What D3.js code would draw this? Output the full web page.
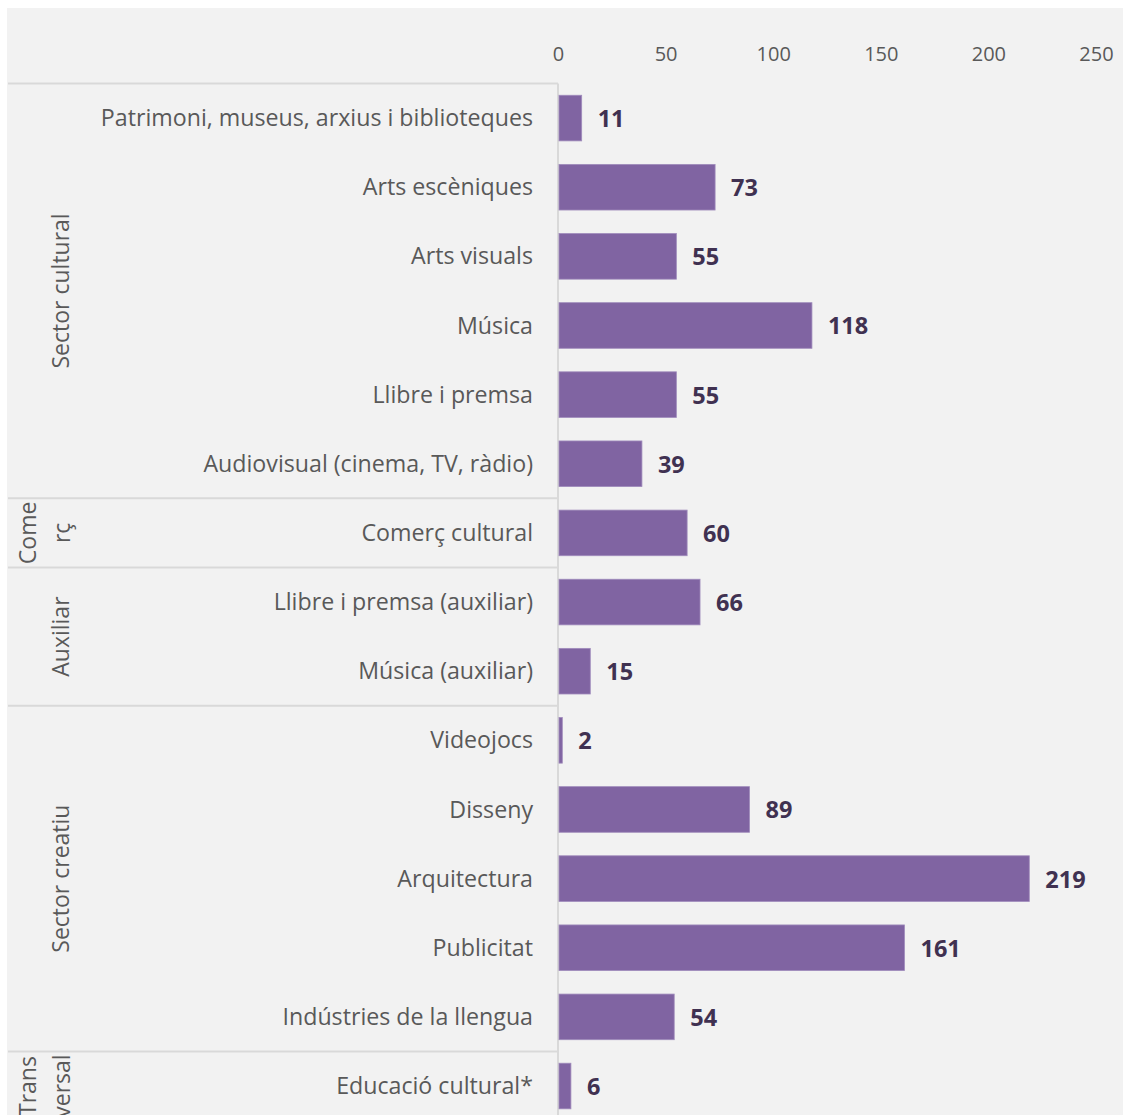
<!DOCTYPE html>
<html>
<head>
<meta charset="utf-8">
<script src="https://cdn.jsdelivr.net/npm/d3@7"></script>
<style>
    body { margin: 0; background: #ffffff; }
    svg { display: block; font-family: "Open Sans", sans-serif; }
</style>
</head>
<body>
<div id="chart"></div>
<script>

// categories, top to bottom
categories = [
    "Patrimoni, museus, arxius i biblioteques",
    "Arts escèniques",
    "Arts visuals",
    "Música",
    "Llibre i premsa",
    "Audiovisual (cinema, TV, ràdio)",
    "Comerç cultural",
    "Llibre i premsa (auxiliar)",
    "Música (auxiliar)",
    "Videojocs",
    "Disseny",
    "Arquitectura",
    "Publicitat",
    "Indústries de la llengua",
    "Educació cultural*",
]
values = [11, 73, 55, 118, 55, 39, 60, 66, 15, 2, 89, 219, 161, 54, 6]

// group label lines (as wrapped in the original) and how many categories each covers
groupLabels = [["Sector cultural"], ["Come", "rç"], ["Auxiliar"], ["Sector creatiu"], ["Trans", "versal"]]
groupSizes = [6, 1, 2, 5, 1]

tickValues = [0, 50, 100, 150, 200, 250]

colors = {
    bg: "#f2f2f2",
    bar: "#8064a2",
    barEdge: "#a08cbc",
    label: "#595959",
    value: "#403151",
    grid: "#d9d9d9",
}

drawChart = () => {
    const width = 1123;
    const height = 1115;
    const step = 69.14;
    const top = 83.5;

    var svg = d3.select("#chart")
        .append("svg")
        .attr("width", width)
        .attr("height", height);

    // chart area background (picture is cropped: thin white strip top and left)
    svg.append("rect")
        .attr("x", 7)
        .attr("y", 8)
        .attr("width", width - 7)
        .attr("height", height - 8)
        .attr("fill", colors.bg);

    var x = d3.scaleLinear()
        .domain([0, 250])
        .range([558, 1096]);
    var y = d3.scaleBand()
        .domain(categories)
        .range([top, top + step * categories.length])
        .paddingInner(0.34)
        .paddingOuter(0.17);

    // top value axis
    var gx = svg.append("g")
        .attr("transform", `translate(0,61)`)
        .call(d3.axisTop(x).tickValues(tickValues).tickSize(0).tickPadding(0))
        .call(g => g.select(".domain").remove());
    gx.selectAll("text")
        .attr("font-family", "Open Sans, sans-serif")
        .attr("font-size", 20)
        .attr("fill", colors.label);

    // group separators
    var bounds = [0];
    groupSizes.forEach(n => bounds.push(bounds[bounds.length - 1] + n));
    svg.append("g")
        .selectAll("line")
        .data(bounds)
        .join("line")
        .attr("x1", 8)
        .attr("x2", x(0))
        .attr("y1", d => y.range()[0] + d * y.step())
        .attr("y2", d => y.range()[0] + d * y.step())
        .attr("stroke", colors.grid)
        .attr("stroke-width", 2);

    // category axis line
    svg.append("line")
        .attr("x1", x(0))
        .attr("x2", x(0))
        .attr("y1", top)
        .attr("y2", height)
        .attr("stroke", colors.grid)
        .attr("stroke-width", 2);

    // group labels (rotated)
    var groups = groupLabels.map((lines, i) => {
        return { lines: lines, mid: y.range()[0] + (bounds[i] + groupSizes[i] / 2) * y.step() }
    });
    svg.append("g")
        .selectAll("text")
        .data(groups)
        .join("text")
        .attr("transform", d => `translate(${d.lines.length > 1 ? 28 : 61},${d.mid}) rotate(-90)`)
        .attr("text-anchor", "middle")
        .attr("dy", "0.35em")
        .attr("font-size", 23)
        .attr("fill", colors.label)
        .selectAll("tspan")
        .data(d => d.lines)
        .join("tspan")
        .attr("x", 0)
        .attr("dy", (_, i) => i == 0 ? "0.35em" : 34)
        .text(d => d);

    // category labels
    svg.append("g")
        .selectAll("text")
        .data(categories)
        .join("text")
        .attr("x", 533)
        .attr("y", d => y(d) + y.bandwidth() / 2)
        .attr("dy", "0.35em")
        .attr("text-anchor", "end")
        .attr("font-size", 23.2)
        .attr("fill", colors.label)
        .text(d => d);

    var data = categories.map((c, i) => { return { name: c, count: values[i] } });

    svg.append("g")
        .selectAll("rect")
        .data(data)
        .join("rect")
        .attr("x", x(0) + 1)
        .attr("y", d => y(d.name))
        .attr("width", d => x(d.count) - x(0) - 1)
        .attr("height", y.bandwidth())
        .attr("fill", colors.bar)
        .attr("stroke", colors.barEdge)
        .attr("stroke-width", 0.8);

    svg.append("g")
        .selectAll("text")
        .data(data)
        .join("text")
        .attr("x", d => x(d.count) + 16)
        .attr("y", d => y(d.name) + y.bandwidth() / 2)
        .attr("dy", "0.38em")
        .attr("font-size", 23.5)
        .attr("font-weight", 700)
        .attr("fill", colors.value)
        .text(d => d.count);
}

drawChart();
</script>
</body>
</html>
